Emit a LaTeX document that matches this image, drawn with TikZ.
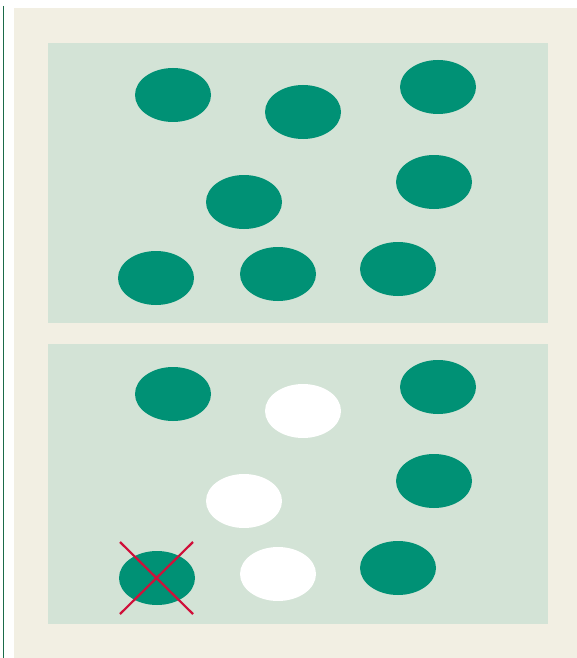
\documentclass[tikz,border=0pt]{standalone}
\usetikzlibrary{shapes.geometric}
\definecolor{bgbeige}{HTML}{F2EFE3}
\definecolor{panelgreen}{HTML}{D3E3D6}
\definecolor{dotteal}{HTML}{009175}
\definecolor{edgegreen}{HTML}{1B6B4A}
\definecolor{crossred}{HTML}{D0103A}
\begin{document}
\begin{tikzpicture}[x=1pt,y=-1pt,
  dot/.style={ellipse,fill=dotteal,draw=none,minimum width=76pt,minimum height=54pt,inner sep=0pt},
  hole/.style={ellipse,fill=white,draw=none,minimum width=76pt,minimum height=54pt,inner sep=0pt},
  panel/.style={fill=panelgreen,draw=none},
  crossline/.style={draw=crossred,line width=2.2pt}]
\useasboundingbox (0,0) rectangle (577,658);
\fill[bgbeige] (14,8) rectangle (577,658);
\draw[edgegreen,line width=1pt] (3,6) -- (3,658);
\fill[panel] (48,43) rectangle (548,323);
\fill[panel] (48,344) rectangle (548,624);
% top panel
\node[dot] (a1) at (173,95) {};
\node[dot] (a2) at (303,112) {};
\node[dot] (a3) at (438,87) {};
\node[dot] (a4) at (244,202) {};
\node[dot] (a5) at (434,182) {};
\node[dot] (a6) at (156,278) {};
\node[dot] (a7) at (278,274) {};
\node[dot] (a8) at (398,269) {};
% bottom panel
\node[dot] (b1) at (173,394) {};
\node[hole] (b2) at (303,411) {};
\node[dot] (b3) at (438,387) {};
\node[hole] (b4) at (244,501) {};
\node[dot] (b5) at (434,481) {};
\node[dot] (b6) at (157,578) {};
\node[hole] (b7) at (278,574) {};
\node[dot] (b8) at (398,568) {};
\coordinate (x1) at (120,542);
\coordinate (x2) at (193,614);
\coordinate (x3) at (193,542);
\coordinate (x4) at (120,614);
\draw[crossline] (x1) -- (x2);
\draw[crossline] (x3) -- (x4);
\end{tikzpicture}
\end{document}
